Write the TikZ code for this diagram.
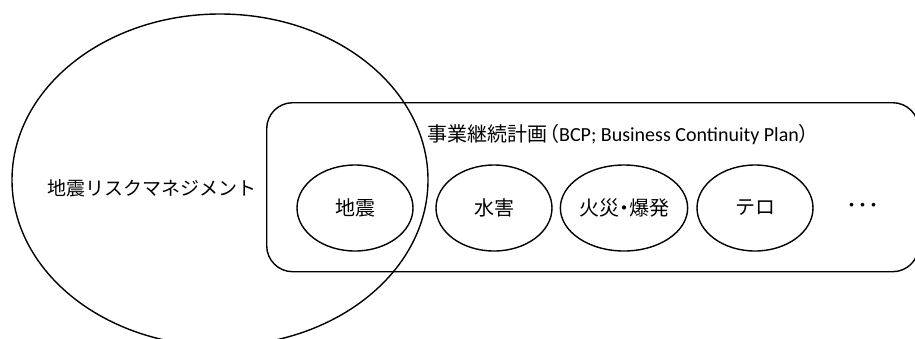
\documentclass[tikz,border=0pt]{standalone}
\usepackage{fontspec}
\setmainfont{Carlito}
\newfontfamily\cjk{Noto Sans CJK JP}
\usetikzlibrary{shapes.geometric}
\tikzset{
  outline/.style={draw=black, line width=1.4pt},
  hazard/.style={outline, ellipse, minimum width=116pt, minimum height=86pt, inner sep=0pt, font=\cjk\fontsize{20}{20}\selectfont},
  lbl/.style={inner sep=0pt, font=\cjk\fontsize{19}{19}\selectfont}
}
\begin{document}
\begin{tikzpicture}[x=1pt,y=-1pt]
\useasboundingbox (0,0) rectangle (915,338);
\clip (0,0) rectangle (915,338);
\fill[white] (0,0) rectangle (915,338);
% BCP box
\node[outline, rounded corners=26pt, minimum width=652pt, minimum height=169pt, inner sep=0pt, anchor=north west] (bcp) at (266,102) {};
% big ellipse
\node[outline, ellipse, minimum width=416pt, minimum height=332pt, inner sep=0pt] (risk) at (220,180) {};
\node[lbl, anchor=west] (risklbl) at (47,188) {地震リスクマネジメント};
\node[anchor=west, inner sep=0pt] (title) at (427,135) {{\cjk\fontsize{20}{20}\selectfont 事業継続計画\kern-8pt（}{\fontsize{20}{20}\selectfont BCP; Business Continuity Plan}{\cjk\fontsize{20}{20}\selectfont ）}};
\node[hazard] (quake) at (355,208) {地震};
\node[hazard] (flood) at (494,208) {水害};
\node[hazard] (fire) at (624,208) {火災\kern-5pt・\kern-5pt爆発};
\node[hazard] (terror) at (755,208) {テロ};
\node[inner sep=0pt, font=\cjk\fontsize{22}{22}\selectfont] (more) at (863,208) {･･･};
\end{tikzpicture}
\end{document}
